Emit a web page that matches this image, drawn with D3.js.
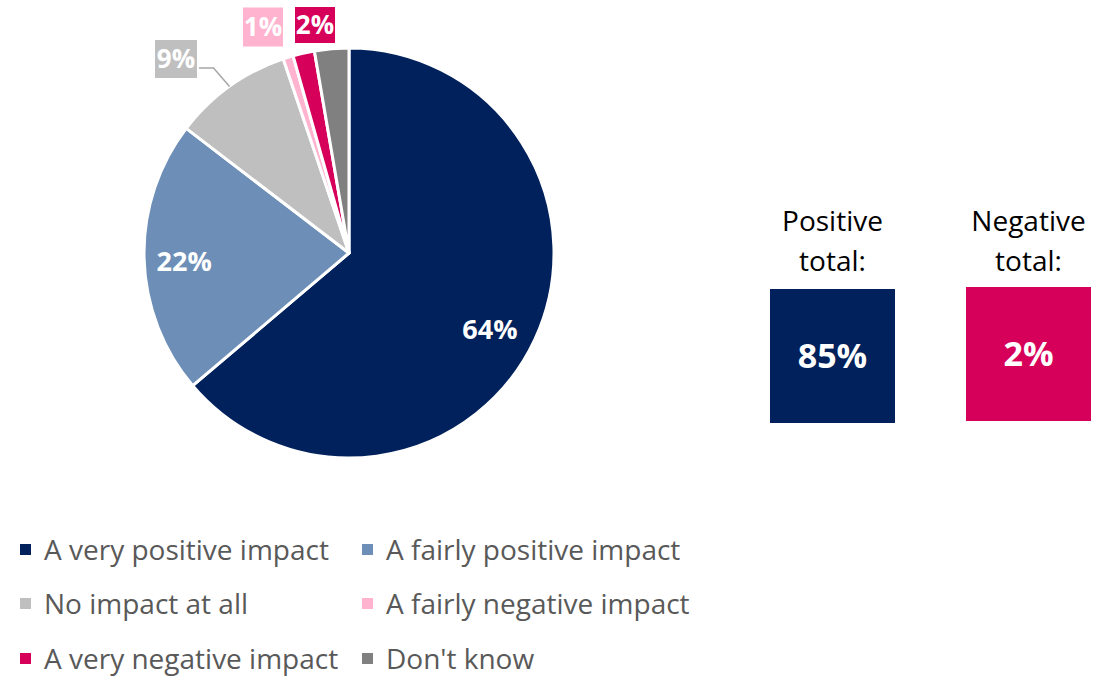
<!DOCTYPE html>
<html>
<head>
<meta charset="utf-8">
<script src="https://cdn.jsdelivr.net/npm/d3@7"></script>
<style>
  body { margin: 0; background: #fff; }
  svg { font-family: "Open Sans", Lato, sans-serif; }
</style>
</head>
<body>
<svg id="chart" width="1104" height="676"></svg>
<script>
// data
const categories = ["A very positive impact", "A fairly positive impact", "No impact at all",
                    "A fairly negative impact", "A very negative impact", "Don't know"];
const values = [63.8, 21.6, 9.4, 0.8, 1.7, 2.7];
const sliceLabels = ["64%", "22%", "9%", "1%", "2%", ""];
const colors = ["#00215B", "#6D8EB7", "#BFBFBF", "#FFB3CF", "#D6005A", "#808080"];
const totalTitles = [["Positive", "total:"], ["Negative", "total:"]];
const totalValues = ["85%", "2%"];
const totalColors = ["#00215B", "#D6005A"];

const svg = d3.select("#chart");
const cx = 349, cy = 253, r = 205;

const pie = d3.pie().sort(null).value(d => d.v);
const arcs = pie(categories.map((c, i) => ({ name: c, v: values[i], i: i })));
const arc = d3.arc().innerRadius(0).outerRadius(r);

const g = svg.append("g").attr("transform", `translate(${cx},${cy})`);

g.selectAll("path")
  .data(arcs)
  .enter()
  .append("path")
  .attr("d", arc)
  .attr("fill", d => colors[d.data.i])
  .attr("stroke", "#fff")
  .attr("stroke-width", 3)
  .attr("stroke-linejoin", "round");

// labels inside the big slices
const inner = d3.arc().innerRadius(r * 0.79).outerRadius(r * 0.79);
const nudge = { 0: [-6, 8], 1: [-3, 4] };
g.selectAll("text.in")
  .data(arcs.filter(d => d.data.i < 2))
  .enter()
  .append("text")
  .attr("class", "in")
  .attr("transform", d => {
    const c = inner.centroid(d), n = nudge[d.data.i];
    return `translate(${c[0] + n[0]},${c[1] + n[1]})`;
  })
  .attr("text-anchor", "middle")
  .attr("dy", "0.36em")
  .attr("fill", "#fff")
  .attr("font-weight", "bold")
  .attr("font-size", 27)
  .text(d => sliceLabels[d.data.i]);

// outside labels in boxes (nudged like the original)
const outside = { 2: { dx: -173, dy: -194, w: 42, h: 38 },
                  3: { dx: -86,  dy: -226, w: 40, h: 39 },
                  4: { dx: -34,  dy: -228, w: 40, h: 36 } };

arcs.filter(d => outside[d.data.i]).forEach(d => {
  const o = outside[d.data.i];
  const lg = g.append("g").attr("transform", `translate(${o.dx},${o.dy})`);
  lg.append("rect")
    .attr("x", -o.w / 2).attr("y", -o.h / 2)
    .attr("width", o.w).attr("height", o.h)
    .attr("fill", colors[d.data.i]);
  lg.append("text")
    .attr("text-anchor", "middle")
    .attr("dy", "0.36em")
    .attr("fill", "#fff")
    .attr("font-weight", "bold")
    .attr("font-size", 26)
    .text(sliceLabels[d.data.i]);

  if (d.data.i == 2) {
    // leader line
    const mid = (d.startAngle + d.endAngle) / 2;
    const ex = Math.sin(mid) * r, ey = -Math.cos(mid) * r;
    const sx = o.dx + o.w / 2 + 2, sy = o.dy + 9;
    g.append("polyline")
      .attr("points", [[sx, sy], [ex - 16, sy], [ex, ey]].map(p => p.join(",")).join(" "))
      .attr("fill", "none")
      .attr("stroke", "#A6A6A6")
      .attr("stroke-width", 1.5);
  }
});

// total boxes
const tot = svg.append("g");
const boxX = [770, 966], boxY = [289, 287];
totalValues.forEach((v, i) => {
  const bx = boxX[i], by = boxY[i], bw = 125, bh = 134;
  const t = tot.append("text")
    .attr("x", bx + bw / 2)
    .attr("text-anchor", "middle")
    .attr("font-size", 28)
    .attr("fill", "#000");
  totalTitles[i].forEach((line, k) => {
    t.append("tspan").attr("x", bx + bw / 2).attr("y", 231 + k * 40).text(line);
  });
  tot.append("rect")
    .attr("x", bx).attr("y", by)
    .attr("width", bw).attr("height", bh)
    .attr("fill", totalColors[i]);
  tot.append("text")
    .attr("x", bx + bw / 2).attr("y", by + bh / 2)
    .attr("dy", "0.36em")
    .attr("text-anchor", "middle")
    .attr("fill", "#fff")
    .attr("font-weight", "bold")
    .attr("font-size", 34)
    .text(v);
});

// legend
const leg = svg.append("g");
const colX = [20, 362], rowY = [550, 604, 659];
categories.forEach((c, i) => {
  const x = colX[i % 2], y = rowY[Math.floor(i / 2)];
  leg.append("rect")
    .attr("x", x).attr("y", y - 6)
    .attr("width", 11).attr("height", 11)
    .attr("fill", colors[i]);
  leg.append("text")
    .attr("x", x + 24).attr("y", y)
    .attr("dy", "0.35em")
    .attr("font-size", 28)
    .attr("fill", "#595959")
    .text(c);
});
</script>
</body>
</html>
